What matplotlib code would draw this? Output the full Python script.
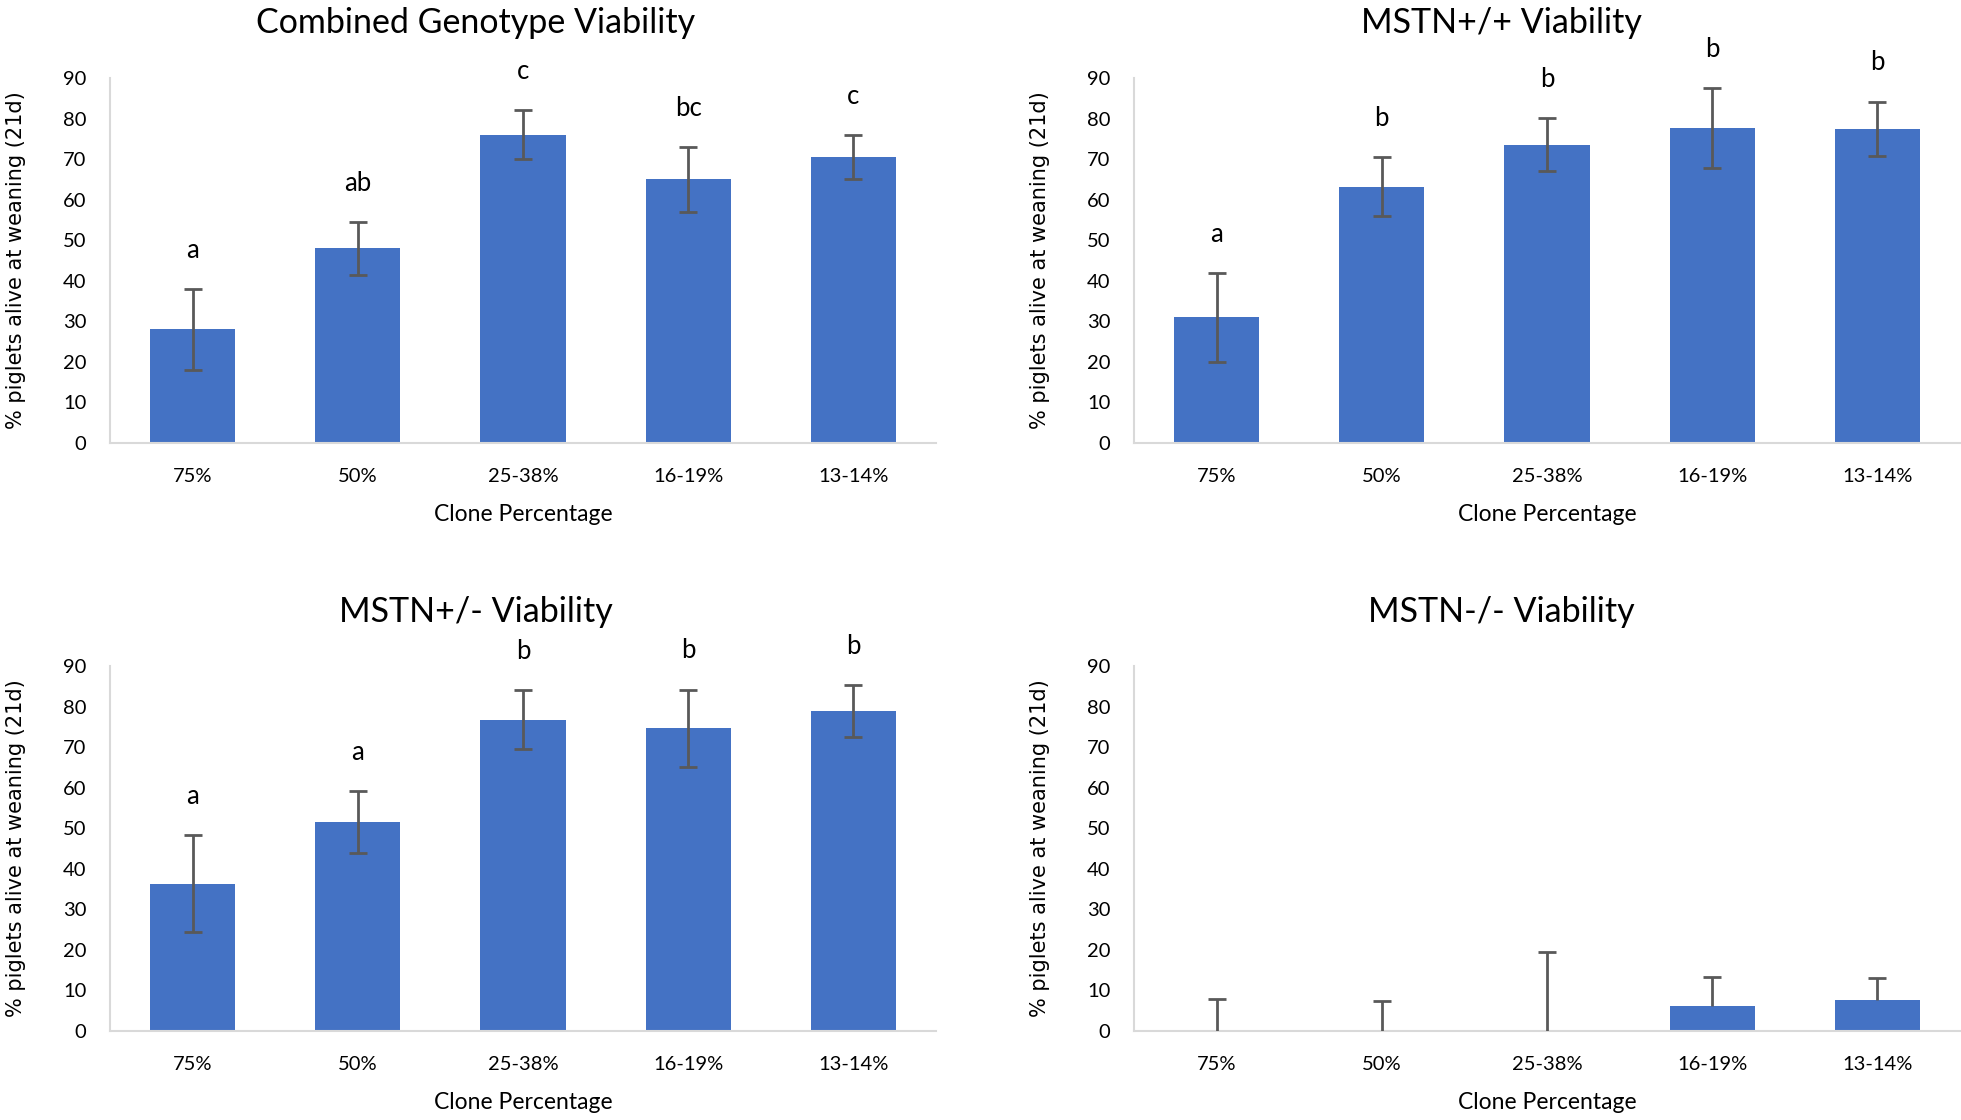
import numpy as np
import matplotlib
matplotlib.use("Agg")
import matplotlib.pyplot as plt

plt.rcParams['font.family'] = ['Lato', 'DejaVu Sans']

# data
categories = ['75%', '50%', '25-38%', '16-19%', '13-14%']

combined_vals = [28, 48, 76, 65, 70.6]
combined_err = [10, 6.5, 6, 8, 5.4]
combined_letters = ['a', 'ab', 'c', 'bc', 'c']

wt_vals = [31, 63.2, 73.6, 77.7, 77.5]
wt_err = [11, 7.3, 6.6, 9.8, 6.7]
wt_letters = ['a', 'b', 'b', 'b', 'b']

het_vals = [36.3, 51.5, 76.8, 74.7, 78.8]
het_err = [12, 7.6, 7.2, 9.5, 6.4]
het_letters = ['a', 'a', 'b', 'b', 'b']

ko_vals = [0, 0, 0, 6.2, 7.7]
ko_err = [7.9, 7.4, 19.5, 7, 5.4]
ko_letters = None

panels = [
    ('Combined Genotype Viability', combined_vals, combined_err, combined_letters, False),
    ('MSTN+/+ Viability', wt_vals, wt_err, wt_letters, False),
    ('MSTN+/- Viability', het_vals, het_err, het_letters, False),
    ('MSTN-/- Viability', ko_vals, ko_err, ko_letters, True),
]

W, H = 1961, 1120
fig = plt.figure(figsize=(W / 100, H / 100), dpi=100)

# axes boxes in pixels: left, axis bottom (y=0), axis top (y=90)
boxes = [(110, 443, 78), (1134, 443, 78), (110, 1031, 666), (1134, 1031, 666)]
title_pos = [(476, 23), (1501, 23), (476, 612), (1501, 612)]
ax_w = 826

blue = '#4472C4'
grey_line = '#D9D9D9'
err_col = '#595959'

for (title, vals, err, letters, plus_only), (l, b, t), (tx, ty) in zip(panels, boxes, title_pos):
    ax = fig.add_axes([l / W, 1 - b / H, ax_w / W, (b - t) / H])
    x = np.arange(len(categories))
    vals = np.array(vals)
    err = np.array(err)
    ax.bar(x, vals, width=0.515, color=blue, zorder=2)
    if plus_only:
        # only the plus side, no cap at the bar top
        ax.vlines(x, vals, vals + err, color=err_col, lw=2, zorder=3)
        ax.plot(x, vals + err, ls='none', marker='_', ms=13, mew=2, color=err_col, zorder=3)
    else:
        ax.errorbar(x, vals, yerr=err, fmt='none', ecolor=err_col, elinewidth=2,
                    capsize=6.5, capthick=2, zorder=3)
    ax.set_xlim(-0.5, len(categories) - 0.5)
    ax.set_ylim(0, 90)
    ax.set_yticks(range(0, 91, 10))
    ax.set_xticks(x)
    ax.set_xticklabels(categories)
    ax.tick_params(axis='both', length=0, labelsize=14.5, colors='black')
    ax.tick_params(axis='x', pad=18)
    ax.tick_params(axis='y', pad=17)
    for s in ['top', 'right']:
        ax.spines[s].set_visible(False)
    for s in ['left', 'bottom']:
        ax.spines[s].set_color(grey_line)
        ax.spines[s].set_linewidth(1.5)
    ax.set_xlabel('Clone Percentage', fontsize=16.5, labelpad=14)
    ax.text(-94 / ax_w, 0.5, '% piglets alive at weaning (21d)', transform=ax.transAxes,
            rotation=90, ha='center', va='center', fontsize=15, family='DejaVu Sans')
    if letters:
        for xi, v, e, lab in zip(x, vals, err, letters):
            ax.text(xi, v + e + 9.5, lab, ha='center', va='center', fontsize=18.5, clip_on=False)
    fig.text(tx / W, 1 - ty / H, title, ha='center', va='center', fontsize=24.5)

fig.savefig('out.png', dpi=100, facecolor='white')
